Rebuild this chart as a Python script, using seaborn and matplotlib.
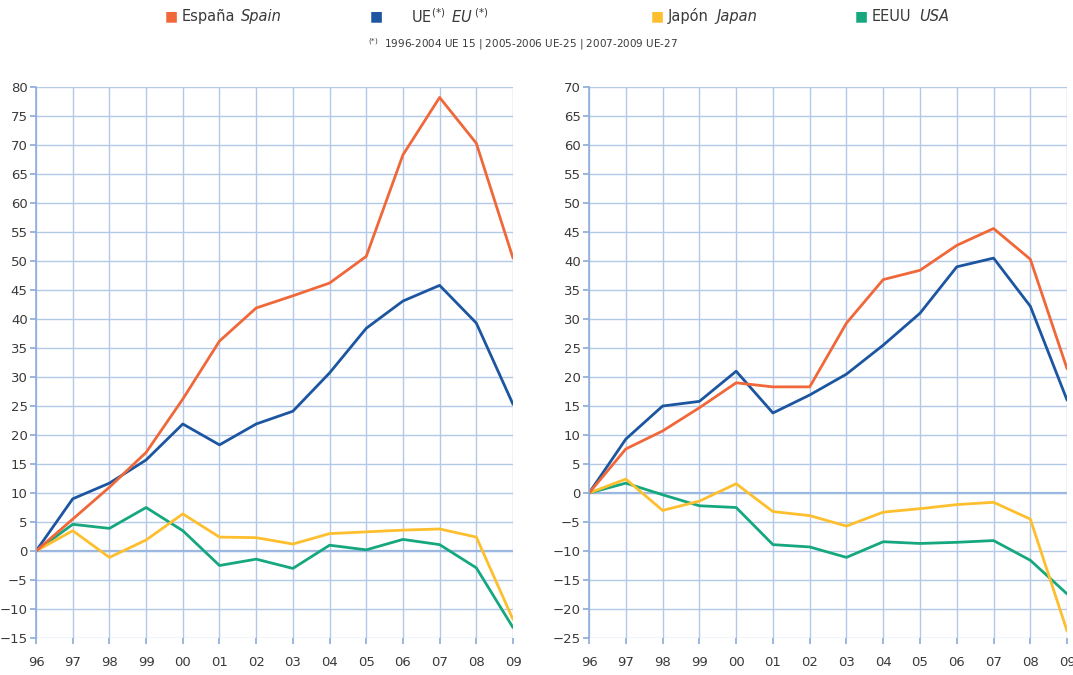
import matplotlib
matplotlib.use("Agg")
import matplotlib.pyplot as plt
import seaborn as sns
import pandas as pd
import numpy as np

years = ['96', '97', '98', '99', '00', '01', '02', '03', '04', '05', '06', '07', '08', '09']

# left panel
spain_l = [0, 5.5, 11.0, 17.0, 26.2, 36.2, 41.9, 44.0, 46.2, 50.8, 68.3, 78.2, 70.3, 50.5]
eu_l = [0, 9.0, 11.7, 15.7, 21.9, 18.3, 21.9, 24.1, 30.7, 38.4, 43.1, 45.8, 39.3, 25.3]
japan_l = [0, 3.5, -1.1, 1.9, 6.4, 2.4, 2.3, 1.2, 3.0, 3.3, 3.6, 3.8, 2.4, -11.8]
usa_l = [0, 4.6, 3.9, 7.5, 3.5, -2.5, -1.4, -3.0, 1.0, 0.2, 2.0, 1.1, -2.9, -13.2]

# right panel
spain_r = [0, 7.6, 10.7, 14.7, 19.0, 18.3, 18.3, 29.3, 36.8, 38.4, 42.7, 45.6, 40.3, 21.4]
eu_r = [0, 9.3, 15.0, 15.8, 21.0, 13.8, 16.9, 20.5, 25.5, 31.0, 39.0, 40.5, 32.2, 16.0]
japan_r = [0, 2.4, -3.0, -1.4, 1.6, -3.2, -3.9, -5.7, -3.3, -2.7, -2.0, -1.6, -4.5, -23.8]
usa_r = [0, 1.7, -0.3, -2.2, -2.5, -8.9, -9.3, -11.1, -8.4, -8.7, -8.5, -8.2, -11.6, -17.4]

series = ['Spain', 'EU', 'Japan', 'USA']
colors = {'Spain': '#F0683A', 'EU': '#1C55A0', 'Japan': '#FDBF2D', 'USA': '#16A77E'}


def long_df(vals):
    rows = []
    for name, v in zip(series, vals):
        for i, y in enumerate(v):
            rows.append({'idx': i, 'value': y, 'series': name})
    return pd.DataFrame(rows)


left = long_df([spain_l, eu_l, japan_l, usa_l])
right = long_df([spain_r, eu_r, japan_r, usa_r])

sns.set_theme(style="white")
plt.rcParams['font.family'] = ['DejaVu Sans']

grid_c = '#B3C9E8'
text_c = '#3A3A3A'

fig = plt.figure(figsize=(10.73, 6.75), dpi=100)
ax1 = fig.add_axes([0.0336, 0.0548, 0.4445, 0.8163])
ax2 = fig.add_axes([0.549, 0.0548, 0.4455, 0.8163])


def draw(ax, df, lo, hi):
    sns.lineplot(data=df, x='idx', y='value', hue='series', palette=colors,
                 hue_order=['USA', 'Japan', 'EU', 'Spain'],
                 linewidth=2, ax=ax, legend=False)
    ax.set_xlim(0, 13)
    ax.set_ylim(lo, hi)
    ax.set_xticks(range(len(years)))
    ax.set_xticklabels(years)
    ax.set_yticks(np.arange(lo, hi + 1, 5))
    ax.grid(True, color=grid_c, linewidth=1)
    ax.set_axisbelow(True)
    for s in ['top', 'right', 'bottom']:
        ax.spines[s].set_visible(False)
    ax.spines['left'].set_color('#8FAEDB')
    ax.spines['left'].set_linewidth(1.2)
    ax.axhline(0, color='#9DB8E0', linewidth=1.6, zorder=1)
    ax.tick_params(axis='y', left=True, length=4, color='#8FAEDB',
                   labelsize=9.5, labelcolor=text_c, pad=2)
    ax.tick_params(axis='x', bottom=True, length=4, color='#8FAEDB',
                   labelsize=9.5, labelcolor=text_c, pad=9)
    ax.set_xlabel('')
    ax.set_ylabel('')


draw(ax1, left, -15, 80)
draw(ax2, right, -25, 70)

# legend at top: marker, then pieces of text placed one after another
renderer = fig.canvas.get_renderer()
ly = 0.976
legend_items = [
    (0.160, 'Spain', [('España', 'normal', 0), ('Spain', 'italic', 6)]),
    (0.351, 'EU', [('UE$^{(*)}$', 'normal', 24), ('EU$^{\\ (*)}$', 'italic', 6)]),
    (0.613, 'Japan', [('Japón', 'normal', 0), ('Japan', 'italic', 8)]),
    (0.803, 'USA', [('EEUU', 'normal', 0), ('USA', 'italic', 8)]),
]
for x, key, parts in legend_items:
    fig.text(x, ly, '■', color=colors[key], fontsize=10, va='center', ha='center')
    px = x * 1073 + 10
    for txt, st, gap in parts:
        px += gap
        t = fig.text(px / 1073, ly, txt, fontsize=10.5, color=text_c,
                     style=st, va='center')
        px = t.get_window_extent(renderer).x1
fig.text(0.343, 0.935, '$^{(*)}$  1996-2004 UE 15 | 2005-2006 UE-25 | 2007-2009 UE-27',
         fontsize=7.5, color=text_c, va='center')

fig.savefig('out.png', dpi=100)
